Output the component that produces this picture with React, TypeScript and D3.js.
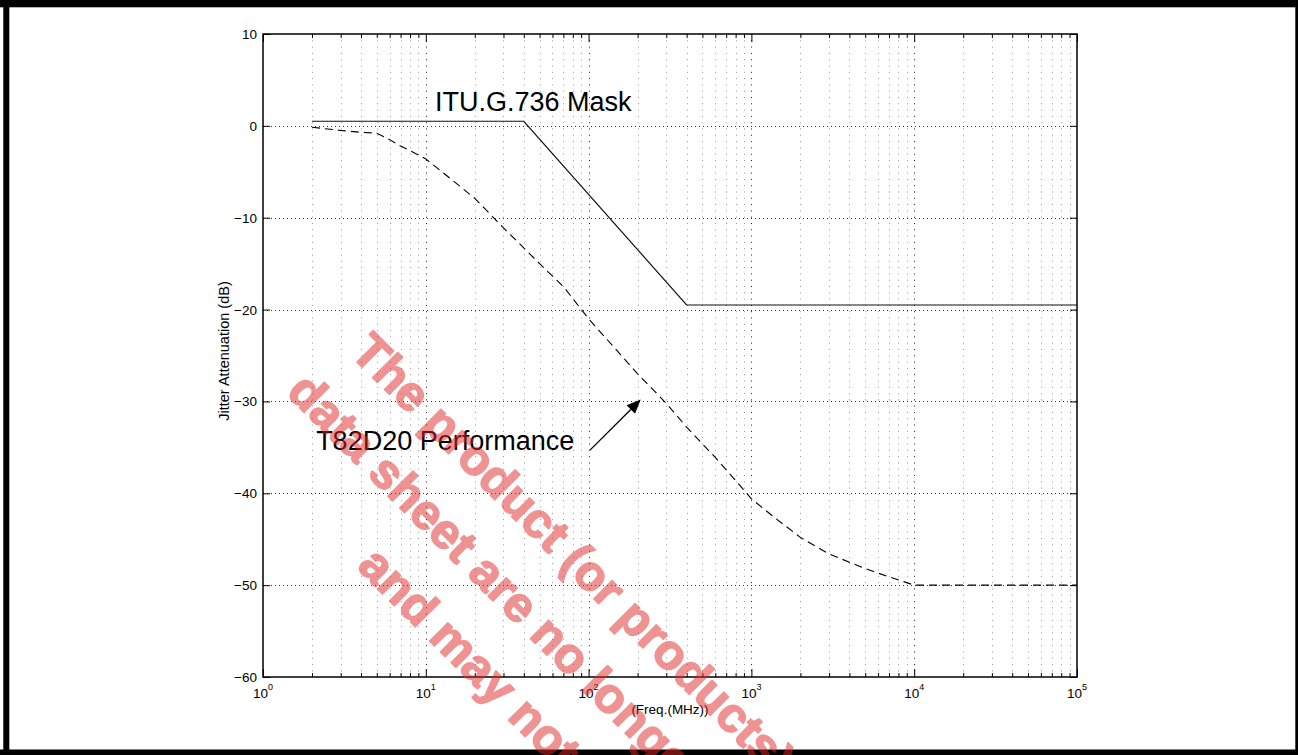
import { useEffect, useRef } from 'react';
import * as d3 from 'd3';

const W = 1298;
const H = 755;
const plot = { left: 263, right: 1077, top: 34, bottom: 677 };

// ITU.G.736 mask (solid)
const maskFreq = [2, 40, 400, 100000];
const maskAtten = [0.5, 0.5, -19.5, -19.5];

// T82D20 performance (dashed)
const perfFreq = [2, 3, 4, 5, 6, 7, 8, 10, 15, 20, 30, 50, 70, 100, 200, 300, 400, 600, 800, 1000, 1400, 2000, 3000, 5000, 7000, 10000, 100000];
const perfAtten = [-0.15, -0.5, -0.7, -0.8, -1.5, -2.2, -2.7, -3.6, -6.1, -7.9, -11.1, -15.0, -17.5, -21.0, -27.0, -30.2, -32.8, -36.1, -38.6, -40.6, -42.7, -44.8, -46.6, -48.2, -49.1, -50, -50];

const xDecades = [0, 1, 2, 3, 4, 5];
const yTicks = [10, 0, -10, -20, -30, -40, -50, -60];

const maskLabel = { text: 'ITU.G.736 Mask', f: 11.4, db: 1.6 };
const perfLabel = { text: 'T82D20 Performance', f: 2.12, db: -35.3 };
const arrowFrom = { f: 102, db: -35.3 };
const arrowTo = { f: 209, db: -29.8 };

const watermark = [
  'The product (or products) described in this',
  'data sheet are no longer in production',
  'and may not be available.',
];

const FONT = '"Liberation Sans", Arial, Helvetica, sans-serif';

export default function App() {
  const svgRef = useRef<SVGSVGElement>(null);

  useEffect(() => {
    document.body.style.margin = '0';
    if (!svgRef.current) return;
    const svg = d3.select(svgRef.current);
    svg.selectAll('*').remove();

    const x = d3.scaleLog().domain([1, 1e5]).range([plot.left, plot.right]);
    const y = d3.scaleLinear().domain([-60, 10]).range([plot.bottom, plot.top]);

    const majors = xDecades.map((d) => Math.pow(10, d));
    const minors: number[] = [];
    xDecades.slice(0, -1).forEach((d) => {
      for (let k = 2; k <= 9; k++) minors.push(k * Math.pow(10, d));
    });
    const crisp = (v: number) => Math.round(v) + 0.5;

    // page + frame
    svg.append('rect').attr('width', W).attr('height', H).attr('fill', '#fff');
    svg.append('rect').attr('x', 0).attr('y', 0).attr('width', W).attr('height', 7.3).attr('fill', '#000');
    svg.append('rect').attr('x', 3.3).attr('y', 0).attr('width', 6).attr('height', H).attr('fill', '#000');
    svg.append('rect').attr('x', 1295.3).attr('y', 0).attr('width', 3).attr('height', H).attr('fill', '#000');
    svg.append('rect').attr('x', 0).attr('y', 749.5).attr('width', W).attr('height', 6).attr('fill', '#000');

    const g = svg.append('g');

    // grid
    g.selectAll('.vgrid')
      .data([...minors, ...majors.slice(1, -1)])
      .enter()
      .append('line')
      .attr('x1', (d) => crisp(x(d)))
      .attr('x2', (d) => crisp(x(d)))
      .attr('y1', plot.top)
      .attr('y2', plot.bottom)
      .attr('stroke', (d) => (majors.includes(d) ? '#222' : '#999'))
      .attr('stroke-width', 1)
      .attr('stroke-dasharray', '1,5.3');

    g.selectAll('.hgrid')
      .data(yTicks.slice(1, -1))
      .enter()
      .append('line')
      .attr('x1', plot.left)
      .attr('x2', plot.right)
      .attr('y1', (d) => crisp(y(d)))
      .attr('y2', (d) => crisp(y(d)))
      .attr('stroke', '#333')
      .attr('stroke-width', 1)
      .attr('stroke-dasharray', '1,3');

    // ticks (inward, all four sides)
    const tickAxis = (axis: d3.Axis<any>, tx: number, ty: number) => {
      g.append('g')
        .attr('transform', `translate(${tx},${ty})`)
        .call(axis)
        .call((a) => a.select('.domain').remove())
        .selectAll('line')
        .attr('stroke', '#000')
        .attr('stroke-width', 1);
    };
    tickAxis(d3.axisBottom(x).tickValues(majors).tickSize(-8).tickFormat(() => ''), 0, plot.bottom);
    tickAxis(d3.axisBottom(x).tickValues(minors).tickSize(-4).tickFormat(() => ''), 0, plot.bottom);
    tickAxis(d3.axisTop(x).tickValues(majors).tickSize(-8).tickFormat(() => ''), 0, plot.top);
    tickAxis(d3.axisTop(x).tickValues(minors).tickSize(-4).tickFormat(() => ''), 0, plot.top);
    tickAxis(d3.axisLeft(y).tickValues(yTicks).tickSize(-7).tickFormat(() => ''), plot.left, 0);
    tickAxis(d3.axisRight(y).tickValues(yTicks).tickSize(-7).tickFormat(() => ''), plot.right, 0);

    // box
    g.append('rect')
      .attr('x', plot.left)
      .attr('y', plot.top)
      .attr('width', plot.right - plot.left)
      .attr('height', plot.bottom - plot.top)
      .attr('fill', 'none')
      .attr('stroke', '#000')
      .attr('stroke-width', 1.5);

    // tick labels
    const xl = g
      .selectAll('.xlab')
      .data(xDecades)
      .enter()
      .append('text')
      .attr('x', (d) => x(Math.pow(10, d)))
      .attr('y', plot.bottom + 21)
      .attr('text-anchor', 'middle')
      .attr('font-family', FONT)
      .attr('font-size', 13.5)
      .attr('fill', '#000');
    xl.append('tspan').text('10');
    xl.append('tspan').attr('dy', -8).attr('font-size', 9).text((d) => String(d));

    g.selectAll('.ylab')
      .data(yTicks)
      .enter()
      .append('text')
      .attr('x', plot.left - 6)
      .attr('y', (d) => y(d) + 5)
      .attr('text-anchor', 'end')
      .attr('font-family', FONT)
      .attr('font-size', 13.5)
      .attr('fill', '#000')
      .text((d) => (d < 0 ? `\u2212${-d}` : String(d)));

    // axis titles
    g.append('text')
      .attr('x', (plot.left + plot.right) / 2)
      .attr('y', 714)
      .attr('text-anchor', 'middle')
      .attr('font-family', FONT)
      .attr('font-size', 13.5)
      .text('(Freq.(MHz))');

    g.append('text')
      .attr('transform', `translate(229,351) rotate(-90)`)
      .attr('text-anchor', 'middle')
      .attr('font-family', FONT)
      .attr('font-size', 14.5)
      .text('Jitter Attenuation (dB)');

    // series
    const maskLine = d3
      .line<number>()
      .x((d) => x(d))
      .y((_, i) => y(maskAtten[i]));
    g.append('path')
      .attr('d', maskLine(maskFreq))
      .attr('fill', 'none')
      .attr('stroke', '#111')
      .attr('stroke-width', 1.2);

    const perfLine = d3
      .line<number>()
      .x((d) => x(d))
      .y((_, i) => y(perfAtten[i]));
    g.append('path')
      .attr('d', perfLine(perfFreq))
      .attr('fill', 'none')
      .attr('stroke', '#000')
      .attr('stroke-width', 1.1)
      .attr('stroke-dasharray', '8,5');

    // annotations
    [maskLabel, perfLabel].forEach((a) => {
      g.append('text')
        .attr('x', x(a.f))
        .attr('y', y(a.db))
        .attr('font-family', FONT)
        .attr('font-size', 27)
        .attr('fill', '#000')
        .text(a.text);
    });

    const tail = [x(arrowFrom.f), y(arrowFrom.db)];
    const tip = [x(arrowTo.f), y(arrowTo.db)];
    const dx = tip[0] - tail[0];
    const dy = tip[1] - tail[1];
    const len = Math.hypot(dx, dy);
    const ux = dx / len;
    const uy = dy / len;
    const headLen = 14;
    const headHalf = 6;
    const base = [tip[0] - ux * headLen, tip[1] - uy * headLen];
    g.append('line')
      .attr('x1', tail[0])
      .attr('y1', tail[1])
      .attr('x2', base[0])
      .attr('y2', base[1])
      .attr('stroke', '#000')
      .attr('stroke-width', 1.3);
    g.append('polygon')
      .attr(
        'points',
        [
          tip,
          [base[0] - uy * headHalf, base[1] + ux * headHalf],
          [base[0] + uy * headHalf, base[1] - ux * headHalf],
        ]
          .map((p) => p.join(','))
          .join(' ')
      )
      .attr('fill', '#000');

    // watermark overlay (group opacity so stroke + fill don't double up)
    const wm = svg
      .append('g')
      .attr('transform', 'translate(349,354) rotate(45)')
      .attr('opacity', 0.5)
      .attr('fill', 'rgb(225,40,40)')
      .attr('stroke', 'rgb(225,40,40)')
      .attr('stroke-width', 1.6)
      .attr('stroke-linejoin', 'round')
      .attr('font-family', FONT)
      .attr('font-weight', 'bold')
      .attr('font-size', 49);
    const wmOffsets = [
      [0, 0],
      [-17, 73],
      [156, 146],
    ];
    wm.selectAll('text')
      .data(watermark)
      .enter()
      .append('text')
      .attr('x', (_, i) => wmOffsets[i][0])
      .attr('y', (_, i) => wmOffsets[i][1])
      .text((d) => d);
  }, []);

  return <svg ref={svgRef} width={W} height={H} style={{ display: 'block' }} />;
}
